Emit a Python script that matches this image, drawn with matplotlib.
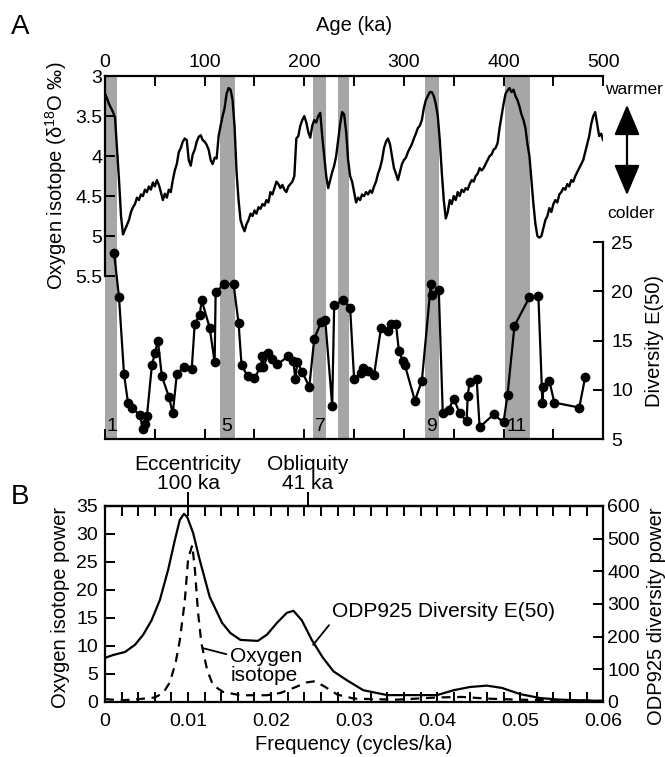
import numpy as np
import matplotlib.pyplot as plt
import matplotlib as mpl
from matplotlib.patches import FancyArrowPatch
from matplotlib.ticker import MultipleLocator

mpl.rcParams["font.family"] = "Liberation Sans"
mpl.rcParams["font.size"] = 14
mpl.rcParams["mathtext.fontset"] = "custom"
mpl.rcParams["mathtext.rm"] = "Liberation Sans"
mpl.rcParams["mathtext.it"] = "Liberation Sans:italic"
mpl.rcParams["axes.linewidth"] = 1.6

# --- panel A: oxygen isotope record (ka, per mil)
d18o_age = [0, 2, 4, 6, 8, 10, 12, 14, 16, 18, 20, 22, 24, 26, 28, 30, 32, 34, 36, 38,
            40, 42, 44, 46, 48, 50, 52, 54, 56, 58, 60, 62, 64, 66, 68, 70, 72, 74, 76, 78,
            80, 82, 84, 86, 88, 90, 92, 94, 96, 98, 100, 102, 104, 106, 108, 110, 112, 114, 116, 118,
            120, 122, 124, 126, 128, 130, 132, 134, 136, 138, 140, 142, 144, 146, 148, 150, 152, 154, 156, 158,
            160, 162, 164, 166, 168, 170, 172, 174, 176, 178, 180, 182, 184, 186, 188, 190, 192, 194, 196, 198,
            200, 202, 204, 206, 208, 210, 212, 214, 216, 218, 220, 222, 224, 226, 228, 230, 232, 234, 236, 238,
            240, 242, 244, 246, 248, 250, 252, 254, 256, 258, 260, 262, 264, 266, 268, 270, 272, 274, 276, 278,
            280, 282, 284, 286, 288, 290, 292, 294, 296, 298, 300, 302, 304, 306, 308, 310, 312, 314, 316, 318,
            320, 322, 324, 326, 328, 330, 332, 334, 336, 338, 340, 342, 344, 346, 348, 350, 352, 354, 356, 358,
            360, 362, 364, 366, 368, 370, 372, 374, 376, 378, 380, 382, 384, 386, 388, 390, 392, 394, 396, 398,
            400, 402, 404, 406, 408, 410, 412, 414, 416, 418, 420, 422, 424, 426, 428, 430, 432, 434, 436, 438,
            440, 442, 444, 446, 448, 450, 452, 454, 456, 458, 460, 462, 464, 466, 468, 470, 472, 474, 476, 478,
            480, 482, 484, 486, 488, 490, 492, 494, 496, 498, 500]
d18o_val = [3.22, 3.28, 3.35, 3.40, 3.45, 3.52, 3.90, 4.30, 4.75, 4.98, 4.92, 4.86, 4.80, 4.70, 4.64, 4.60, 4.52, 4.55, 4.48, 4.50,
            4.42, 4.45, 4.38, 4.42, 4.33, 4.38, 4.30, 4.36, 4.45, 4.55, 4.47, 4.52, 4.42, 4.45, 4.30, 4.18, 4.10, 3.95, 3.90, 3.82,
            3.78, 3.80, 4.05, 4.12, 3.98, 3.92, 3.82, 3.76, 3.74, 3.80, 3.82, 3.86, 3.92, 4.05, 4.10, 4.02, 4.03, 3.75, 3.62, 3.50,
            3.40, 3.22, 3.15, 3.17, 3.30, 3.63, 4.20, 4.55, 4.80, 4.88, 4.94, 4.85, 4.80, 4.72, 4.75, 4.68, 4.72, 4.64, 4.66, 4.60,
            4.62, 4.55, 4.58, 4.45, 4.48, 4.40, 4.32, 4.35, 4.40, 4.36, 4.42, 4.45, 4.38, 4.35, 4.32, 4.25, 3.78, 3.75, 3.62, 3.55,
            3.50, 3.58, 3.70, 3.77, 3.62, 3.55, 3.58, 3.50, 3.46, 3.75, 4.00, 4.25, 4.40, 4.30, 4.20, 4.12, 4.00, 3.80, 3.60, 3.45,
            3.48, 3.70, 4.05, 4.25, 4.32, 4.45, 4.58, 4.52, 4.55, 4.48, 4.50, 4.45, 4.48, 4.43, 4.46, 4.38, 4.32, 4.22, 4.15, 4.05,
            3.90, 3.82, 3.78, 3.85, 4.00, 4.15, 4.22, 4.30, 4.20, 4.10, 4.05, 4.02, 3.95, 3.90, 3.85, 3.78, 3.72, 3.65, 3.62, 3.55,
            3.40, 3.30, 3.25, 3.20, 3.20, 3.25, 3.35, 3.50, 3.80, 4.20, 4.55, 4.78, 4.70, 4.55, 4.60, 4.50, 4.55, 4.45, 4.50, 4.42,
            4.45, 4.40, 4.42, 4.35, 4.30, 4.32, 4.25, 4.22, 4.15, 4.18, 4.15, 4.10, 4.05, 4.00, 3.98, 3.92, 3.90, 3.84, 3.65, 3.50,
            3.35, 3.22, 3.18, 3.15, 3.20, 3.17, 3.25, 3.30, 3.38, 3.48, 3.55, 3.65, 3.85, 4.00, 4.30, 4.60, 4.85, 5.00, 5.02, 5.00,
            4.90, 4.80, 4.75, 4.65, 4.70, 4.60, 4.55, 4.58, 4.48, 4.45, 4.40, 4.42, 4.35, 4.38, 4.30, 4.32, 4.25, 4.20, 4.15, 4.10,
            4.05, 3.95, 3.85, 3.75, 3.60, 3.50, 3.45, 3.60, 3.75, 3.72, 3.80]

# --- panel A: ODP925 diversity E(50)
div_age = [9, 14, 19, 23, 27, 35, 38, 40, 42, 47, 50, 53, 57, 64, 68, 72, 79, 87, 90, 95,
           97, 105, 110, 111, 119, 129, 134, 137, 143, 150, 156, 158, 159, 164, 168, 173, 184, 189, 191, 193,
           198, 205, 210, 217, 221, 228, 230, 239, 246, 250, 257, 259, 264, 270, 277, 284, 287, 292, 295, 299,
           301, 311, 318, 327, 328, 335, 339, 345, 350, 356, 363, 364, 366, 373, 376, 390, 400, 404, 411, 426,
           435, 439, 440, 446, 451, 476, 482]
div_val = [23.9, 19.4, 11.6, 8.7, 8.2, 7.4, 6.0, 6.5, 7.3, 12.5, 13.7, 15.0, 11.4, 9.3, 7.6, 11.6, 12.3, 12.1, 16.7, 17.6,
           19.1, 16.3, 12.8, 19.9, 20.7, 20.7, 16.8, 12.5, 11.4, 11.2, 12.3, 13.4, 12.3, 13.7, 13.1, 12.6, 13.4, 12.9, 11.1, 12.8,
           11.8, 10.3, 15.2, 16.9, 17.1, 8.4, 18.6, 19.1, 18.3, 11.1, 11.7, 12.2, 11.9, 11.5, 16.3, 16.0, 16.7, 16.7, 13.9, 12.9,
           12.5, 8.9, 10.9, 20.7, 19.6, 20.1, 7.6, 8.0, 9.1, 7.6, 6.8, 9.4, 10.8, 11.1, 6.2, 7.5, 6.7, 9.5, 16.5, 19.4,
           19.5, 8.7, 10.3, 10.9, 8.7, 8.2, 11.3]

# interglacial stages (ka)
stage_start = [0, 115, 209, 234, 321, 401]
stage_end = [12, 130, 222, 245, 335, 427]
stage_label = ["1", "5", "7", "", "9", "11"]

# --- panel B: power spectra
freq_div = [0, 0.001, 0.0024, 0.0036, 0.0046, 0.0056, 0.0066, 0.0076, 0.0084, 0.009,
            0.0095, 0.0099, 0.0106, 0.0114, 0.0126, 0.0141, 0.0151, 0.0163, 0.0184, 0.0195,
            0.0207, 0.0219, 0.0227, 0.0237, 0.0249, 0.0262, 0.0275, 0.0291, 0.0311, 0.034,
            0.04, 0.042, 0.044, 0.046, 0.0478, 0.05, 0.0524, 0.0548, 0.06]
power_div = [135, 144, 153, 175, 206, 250, 312, 405, 495, 557,
             576, 566, 518, 435, 322, 242, 211, 190, 187, 206,
             242, 273, 279, 250, 190, 137, 94, 67, 36, 21,
             21, 36, 46, 50, 43, 24, 12, 7, 3]

freq_iso = [0, 0.002, 0.004, 0.006, 0.007, 0.0078, 0.0085, 0.009, 0.0096, 0.01,
            0.0105, 0.0108, 0.0112, 0.0116, 0.0123, 0.013, 0.0142, 0.0163, 0.0195, 0.0211,
            0.0227, 0.0243, 0.0253, 0.0265, 0.028, 0.03, 0.035, 0.04, 0.043, 0.046,
            0.05, 0.055, 0.06]
power_iso = [0.5, 0.3, 0.5, 0.8, 1.6, 3.5, 7.0, 11.0, 18.0, 25.5,
             28.0, 24.0, 16.0, 10.5, 5.7, 3.0, 1.8, 1.2, 1.2, 1.6,
             2.5, 3.5, 3.7, 2.7, 1.3, 0.6, 0.4, 0.8, 0.9, 0.6,
             0.4, 0.3, 0.2]

gray = "#a6a6a6"
tick_kw = dict(direction="in", length=7, width=1.4)
label_size = 14.5
note_size = 15

fig = plt.figure(figsize=(6.65, 7.57), dpi=100)

# ================= Panel A =================
axA = fig.add_axes([0.158, 0.420, 0.749, 0.4795])
for s, e, lab in zip(stage_start, stage_end, stage_label):
    axA.axvspan(s, e, color=gray, lw=0, zorder=0)
    if lab:
        axA.text(s + 1.5, 0.012, lab, transform=axA.get_xaxis_transform(),
                 ha="left", va="bottom", fontsize=14)

axA.plot(d18o_age, d18o_val, color="black", lw=1.7, zorder=3)
axA.set_xlim(0, 500)
axA.set_ylim(7.5375, 3)
axA.set_yticks([3, 3.5, 4, 4.5, 5, 5.5])
axA.set_yticklabels(["3", "3.5", "4", "4.5", "5", "5.5"])
axA.spines["left"].set_bounds(3, 5.5)
axA.spines["right"].set_visible(False)
axA.set_xticks(range(0, 501, 100))
axA.xaxis.set_minor_locator(MultipleLocator(50))
axA.tick_params(axis="x", which="both", top=True, bottom=True,
                labeltop=True, labelbottom=False, pad=4, **tick_kw)
axA.tick_params(axis="y", pad=2, **tick_kw)
axA.xaxis.set_label_position("top")
axA.set_xlabel("Age (ka)", fontsize=label_size)
axA.xaxis.set_label_coords(0.5, 1.124)
axA.set_ylabel("Oxygen isotope (δ$^{18}$O ‰)", fontsize=label_size)
axA.yaxis.set_label_coords(-0.072, 0.7245)

axA2 = axA.twinx()
axA2.plot(div_age, div_val, color="black", lw=1.6, marker="o", markersize=6, zorder=3)
axA2.set_ylim(5, 41.85)
axA2.set_yticks([5, 10, 15, 20, 25])
for side in ["left", "top", "bottom"]:
    axA2.spines[side].set_visible(False)
axA2.spines["right"].set_bounds(5, 25)
axA2.tick_params(axis="y", pad=6, **tick_kw)
axA2.set_ylabel("Diversity E(50)", fontsize=label_size)
axA2.yaxis.set_label_coords(1.084, 0.2714)

# warmer / colder arrow
arrow = FancyArrowPatch((627 / 665, 1 - 102 / 757), (627 / 665, 1 - 198 / 757),
                        transform=fig.transFigure, arrowstyle="<|-|>,head_length=19,head_width=8",
                        color="black", lw=1.6, mutation_scale=1)
fig.add_artist(arrow)
fig.text(634 / 665, 1 - 90 / 757, "warmer", ha="center", va="center", fontsize=12.5)
fig.text(631 / 665, 1 - 213 / 757, "colder", ha="center", va="center", fontsize=12.5)

# ================= Panel B =================
axB = fig.add_axes([0.158, 0.0727, 0.749, 0.2589])
axB.plot(freq_iso, power_iso, color="black", lw=1.6, ls=(0, (4, 3)))
axB.set_xlim(0, 0.06)
axB.set_ylim(0, 35)
axB.set_xticks([0, 0.01, 0.02, 0.03, 0.04, 0.05, 0.06])
axB.set_xticklabels(["0", "0.01", "0.02", "0.03", "0.04", "0.05", "0.06"])
axB.xaxis.set_minor_locator(MultipleLocator(0.002))
axB.set_yticks(range(0, 36, 5))
axB.tick_params(axis="x", which="both", top=True, bottom=True, pad=8, **tick_kw)
axB.tick_params(axis="y", pad=5, **tick_kw)
axB.spines["right"].set_visible(False)
axB.set_xlabel("Frequency (cycles/ka)", fontsize=label_size)
axB.xaxis.set_label_coords(0.5, -0.17)
axB.set_ylabel("Oxygen isotope power", fontsize=label_size)
axB.yaxis.set_label_coords(-0.07, 0.48)

axB2 = axB.twinx()
axB2.plot(freq_div, power_div, color="black", lw=1.6)
axB2.set_ylim(0, 600)
axB2.set_yticks(range(0, 601, 100))
for side in ["left", "top", "bottom"]:
    axB2.spines[side].set_visible(False)
axB2.tick_params(axis="y", pad=3, **tick_kw)
axB2.set_ylabel("ODP925 diversity power", fontsize=label_size)
axB2.yaxis.set_label_coords(1.088, 0.44)

# orbital period markers
sec = axB.secondary_xaxis("top")
sec.set_xticks([0.01, 1 / 41])
sec.tick_params(axis="x", direction="out", length=10, width=1.4, labeltop=False)
sec.spines["top"].set_linewidth(1.6)
for xv, txt in [(0.01, "Eccentricity\n100 ka"), (1 / 41, "Obliquity\n41 ka")]:
    axB.annotate(txt, xy=(xv, 1), xycoords=("data", "axes fraction"),
                 xytext=(0, 9), textcoords="offset points", fontsize=note_size,
                 ha="center", va="bottom", linespacing=1.05, annotation_clip=False)

axB.annotate("Oxygen\nisotope", xy=(0.0118, 9.6), xytext=(0.0151, 6.45),
             ha="left", va="center", linespacing=1.0, fontsize=note_size,
             arrowprops=dict(arrowstyle="-", lw=1.3, color="black",
                             shrinkA=1, shrinkB=0, relpos=(0, 0.78)))
axB.annotate("ODP925 Diversity E(50)", xy=(0.02506, 10.2), xytext=(0.02735, 16.1),
             ha="left", va="center", fontsize=note_size,
             arrowprops=dict(arrowstyle="-", lw=1.3, color="black",
                             shrinkA=1, shrinkB=0, relpos=(0, 0.0)))

fig.text(20 / 665, 1 - 27 / 757, "A", ha="center", va="center", fontsize=20)
fig.text(20 / 665, 1 - 497 / 757, "B", ha="center", va="center", fontsize=20)

fig.savefig("out.png", dpi=100)
